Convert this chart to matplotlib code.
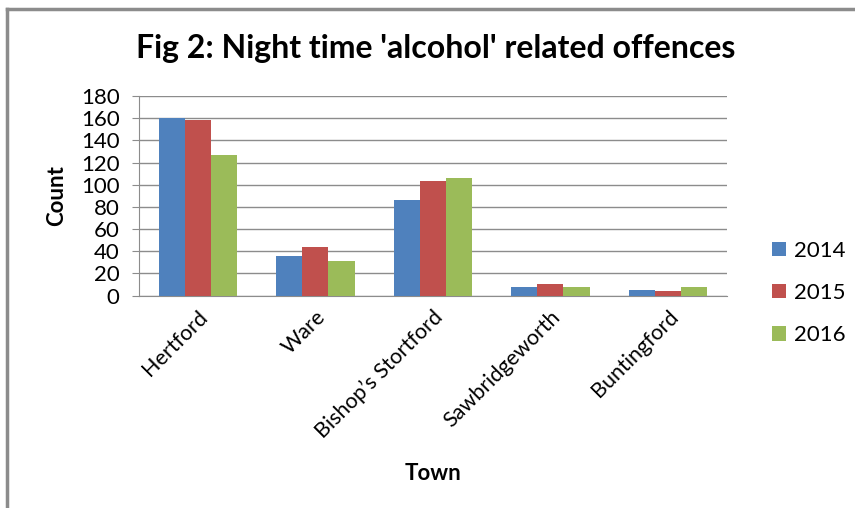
"""Fig 2: night time 'alcohol' related offences by town."""

import matplotlib

matplotlib.use("Agg")
import matplotlib.pyplot as plt
from matplotlib.lines import Line2D
import numpy as np

plt.rcParams["font.family"] = ["Lato", "DejaVu Sans"]

towns = ["Hertford", "Ware", "Bishop\u2019s Stortford", "Sawbridgeworth", "Buntingford"]
years = ["2014", "2015", "2016"]
counts_2014 = [160, 36, 86, 8, 5]
counts_2015 = [158, 44, 103, 10, 4]
counts_2016 = [127, 31, 106, 8, 8]
colors = ["#4F81BD", "#C0504D", "#9BBB59"]

fig = plt.figure(figsize=(8.55, 5.08), dpi=100)
ax = fig.add_axes([0.1626, 0.4183, 0.6874, 0.3927])

x = np.arange(len(towns))
width = 1 / 4.5
for i, (vals, label) in enumerate(zip([counts_2014, counts_2015, counts_2016], years)):
    ax.bar(x + (i - 1) * width, vals, width, color=colors[i], label=label, zorder=3)

ax.set_xlim(-0.5, len(towns) - 0.5)
ax.set_ylim(0, 180)
ax.set_yticks(range(0, 181, 20))
ax.yaxis.grid(True, color="#8C8C8C", linewidth=1, zorder=0)
ax.set_xticks(x)
ax.set_xticklabels(towns, rotation=45, ha="right", rotation_mode="anchor", fontsize=15.5)
ax.tick_params(axis="y", labelsize=16, length=5, color="#8C8C8C", pad=9)
ax.tick_params(axis="x", length=0, pad=8)
for side in ["top", "right"]:
    ax.spines[side].set_visible(False)
for side in ["left", "bottom"]:
    ax.spines[side].set_color("#8C8C8C")

fig.text(0.51, 0.905, "Fig 2: Night time 'alcohol' related offences",
         ha="center", va="center", fontsize=23, fontweight="bold")
fig.text(0.507, 0.067, "Town", ha="center", va="center", fontsize=16, fontweight="bold")
fig.text(0.066, 0.616, "Count", ha="center", va="center", rotation=90,
         fontsize=16, fontweight="bold")

fig.legend(loc="center left", bbox_to_anchor=(0.88, 0.423), frameon=False,
           fontsize=16, handlelength=0.6, handleheight=0.6, handletextpad=0.35,
           labelspacing=1.0)

# chart border (top and left edges visible)
fig.add_artist(Line2D([0.008, 1.0], [0.983, 0.983], color="#8C8C8C", linewidth=2.5,
                      transform=fig.transFigure))
fig.add_artist(Line2D([0.008, 0.008], [0.0, 0.983], color="#8C8C8C", linewidth=2.5,
                      transform=fig.transFigure))

fig.savefig("out.png", dpi=100)
